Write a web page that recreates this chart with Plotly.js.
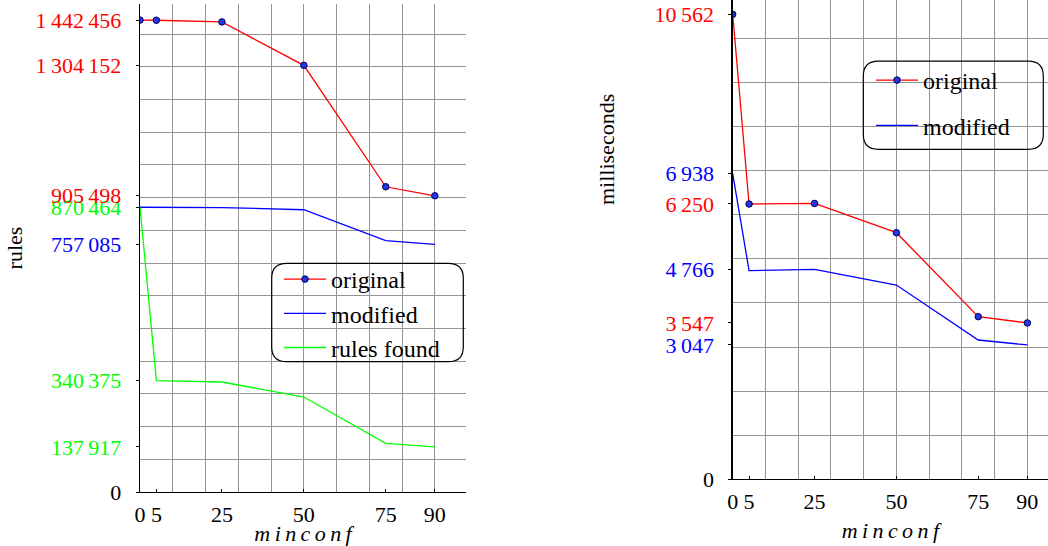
<!DOCTYPE html>
<html><head><meta charset="utf-8">
<script src="https://cdn.plot.ly/plotly-3.0.1.min.js"></script>
<style>html,body{margin:0;padding:0;background:#fff}</style>
</head><body><div id="chart" style="width:1048px;height:546px"></div>
<script>
// ---- data ----
const minconf = [0, 5, 25, 50, 75, 90];
const xTickText = ["0", "5", "25", "50", "75", "90"];
const rulesOriginal = [1442456, 1442000, 1437000, 1304152, 933000, 905498];
const rulesModified = [870464, 870300, 869500, 862800, 768200, 757085];
const rulesFound = [870464, 340375, 336200, 290400, 148900, 137917];
const msOriginal = [10562, 6250, 6262, 5598, 3689, 3547];
const msModified = [6938, 4735, 4766, 4409, 3159, 3047];
const seriesNames = ["original", "modified", "rules found"];

// ---- style ----
const RED = "#ff0000", BLUE = "#0000ff", GREEN = "#00ff00";
const FONT = "'Liberation Serif', 'Times New Roman', 'DejaVu Serif', serif";
const W = 1048, H = 546;
const px = x => x / W;
const py = y => 1 - y / H;
const GRID = "#949494";

function fmt(v) { return String(v).replace(/\B(?=(\d{3})+(?!\d))/g, "\u2009"); }
function col(v, c) { return c ? '<span style="color:' + c + '">' + fmt(v) + '</span>' : fmt(v); }

const leftTicks = [
  [0, null], [rulesFound[5], GREEN], [rulesFound[1], GREEN], [rulesModified[5], BLUE],
  [rulesFound[0], GREEN], [rulesOriginal[5], RED], [rulesOriginal[3], RED], [rulesOriginal[0], RED]
];
const rightTicks = [
  [0, null], [msModified[5], BLUE], [msOriginal[5], RED], [msModified[2], BLUE],
  [msOriginal[1], RED], [msModified[0], BLUE], [msOriginal[0], RED]
];

const marker = {symbol: "circle", size: 6.5, color: "#2436e0", line: {color: "#00005a", width: 1}};

const traces = [
  {x: minconf, y: rulesOriginal, name: seriesNames[0], mode: "lines+markers", line: {color: RED, width: 1.3},
   marker: marker, xaxis: "x", yaxis: "y", legend: "legend", legendgroup: "a"},
  {x: minconf, y: rulesModified, name: seriesNames[1], mode: "lines", line: {color: BLUE, width: 1.3},
   xaxis: "x", yaxis: "y", legend: "legend", legendgroup: "b"},
  {x: minconf, y: rulesFound, name: seriesNames[2], mode: "lines", line: {color: GREEN, width: 1.3},
   xaxis: "x", yaxis: "y", legend: "legend", legendgroup: "c"},
  {x: minconf, y: msOriginal, name: seriesNames[0], mode: "lines+markers", line: {color: RED, width: 1.3},
   marker: marker, xaxis: "x2", yaxis: "y2", legend: "legend2", legendgroup: "d"},
  {x: minconf, y: msModified, name: seriesNames[1], mode: "lines", line: {color: BLUE, width: 1.3},
   xaxis: "x2", yaxis: "y2", legend: "legend2", legendgroup: "e"}
];

const tickfont = {family: FONT, size: 22, color: "#000"};
function xAxis(domain, range, anchor, title) {
  return {
    domain: domain, range: range, anchor: anchor,
    showline: true, linecolor: "#000", linewidth: 1.3,
    ticks: "inside", ticklen: 3, tickcolor: "#000", tickwidth: 1,
    tickmode: "array", tickvals: minconf, ticktext: xTickText, tickfont: tickfont,
    ticklabelstandoff: 2,
    showgrid: false, zeroline: false,
    minor: {tickmode: "linear", tick0: 0, dtick: 10, showgrid: true, gridcolor: GRID, gridwidth: 1, ticks: ""},
    title: title
  };
}
function yAxis(domain, range, anchor, ticks, dtick, title) {
  return {
    domain: domain, range: range, anchor: anchor,
    showline: true, linecolor: "#000", linewidth: 1.3,
    ticks: "outside", ticklen: 3, tickcolor: "#000", tickwidth: 1,
    tickmode: "array", tickvals: ticks.map(t => t[0]), ticktext: ticks.map(t => col(t[0], t[1])),
    tickfont: tickfont, ticklabelstandoff: 10,
    showgrid: false, zeroline: false,
    minor: {tickmode: "linear", tick0: 0, dtick: dtick, showgrid: true, gridcolor: GRID, gridwidth: 1, ticks: ""},
    title: title
  };
}

const minconfTitle = "<i>m\u2009i\u2009n\u2009c\u2009o\u2009n\u2009f</i>";

function roundRect(w, h, r) {
  const a = w / 2, b = h / 2;
  return `M ${-a + r},${-b} L ${a - r},${-b} Q ${a},${-b} ${a},${-b + r} L ${a},${b - r} Q ${a},${b} ${a - r},${b} ` +
         `L ${-a + r},${b} Q ${-a},${b} ${-a},${b - r} L ${-a},${-b + r} Q ${-a},${-b} ${-a + r},${-b} Z`;
}

const legendFont = {family: FONT, size: 24, color: "#000"};

const layout = {
  width: W, height: H,
  margin: {l: 0, r: 0, t: 0, b: 0},
  paper_bgcolor: "#fff", plot_bgcolor: "rgba(0,0,0,0)",
  font: {family: FONT, size: 22, color: "#000"},
  showlegend: true,
  xaxis: xAxis([px(140), px(466)], [0, 99.5], "y",
               {text: minconfTitle, font: {family: FONT, size: 22}, standoff: 0}),
  yaxis: yAxis([py(492), py(4)], [0, 1491700], "x", leftTicks, 100000,
               {text: "rules", font: {family: FONT, size: 22}, standoff: 6}),
  xaxis2: xAxis([px(732.7), 1], [0, 96.3], "y2",
               {text: minconfTitle, font: {family: FONT, size: 22}, standoff: 10}),
  yaxis2: yAxis([py(479), 1], [0, 10886], "x2", rightTicks, 1000, {text: ""}),
  legend: {x: px(279), y: py(257), xanchor: "left", yanchor: "top", bgcolor: "rgba(0,0,0,0)",
           borderwidth: 0, font: legendFont, traceorder: "normal", itemwidth: 42},
  legend2: {x: px(871), y: py(58), xanchor: "left", yanchor: "top", bgcolor: "rgba(0,0,0,0)",
           borderwidth: 0, font: legendFont, tracegroupgap: 11, traceorder: "grouped", itemwidth: 42},
  shapes: [
    {type: "path", xref: "paper", yref: "paper", xsizemode: "pixel", ysizemode: "pixel",
     xanchor: px(367.5), yanchor: py(312.5), path: roundRect(191.6, 98.4, 15),
     line: {color: "#000", width: 1.2}, fillcolor: "rgba(0,0,0,0)", layer: "above"},
    {type: "path", xref: "paper", yref: "paper", xsizemode: "pixel", ysizemode: "pixel",
     xanchor: px(953.3), yanchor: py(105.2), path: roundRect(180, 88.3, 15),
     line: {color: "#000", width: 1.2}, fillcolor: "rgba(0,0,0,0)", layer: "above"}
  ],
  annotations: [
    {text: "milliseconds", xref: "paper", yref: "paper", x: px(606), y: py(150),
     xanchor: "center", yanchor: "middle", textangle: -90, showarrow: false,
     font: {family: FONT, size: 22, color: "#000"}}
  ]
};

Plotly.newPlot("chart", traces, layout, {displayModeBar: false, staticPlot: true});
</script>
</body></html>
